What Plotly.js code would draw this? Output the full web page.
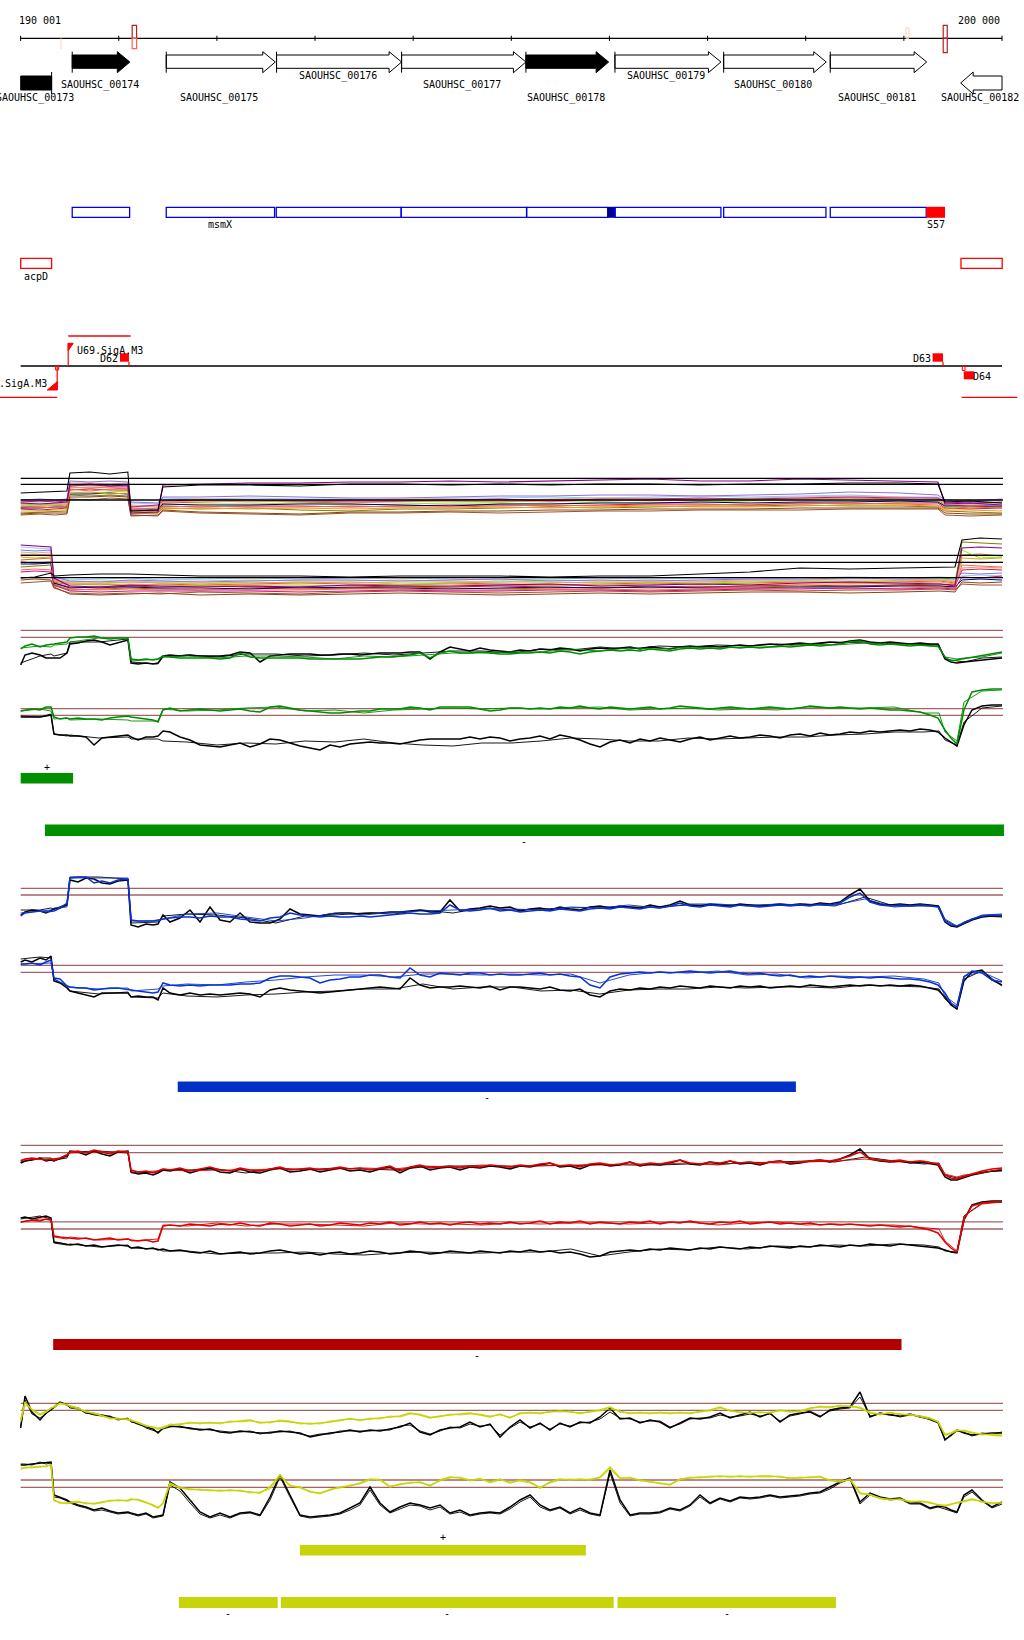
<!DOCTYPE html>
<html><head><meta charset="utf-8">
<script src="https://cdn.plot.ly/plotly-3.0.1.min.js"></script>
<style>html,body{margin:0;padding:0;background:#fff}#chart{width:1024px;height:1640px}</style>
</head><body><div id="chart"></div>
<script>
// ---------------- DATA ----------------
const windowStart = 190001, windowEnd = 200000;
const rulerTicks = [190000,191000,192000,193000,194000,195000,196000,197000,198000,199000,200000];
const rulerLabels = ['190 001','200 000'];
const markStart = [190406,191137,199021,199401];
const markEnd   = [190416,191182,199052,199442];
const markStrand = ['-','both','+','both'];
const markStrength = ['faint','strong','faint','strong'];

const geneNames  = ['SAOUHSC_00173','SAOUHSC_00174','SAOUHSC_00175','SAOUHSC_00176','SAOUHSC_00177','SAOUHSC_00178','SAOUHSC_00179','SAOUHSC_00180','SAOUHSC_00181','SAOUHSC_00182'];
const geneStart  = [189700,190526,191484,192608,193882,195149,196056,197164,198250,199579];
const geneEnd    = [190316,191113,192595,193882,195149,195992,197136,198209,199232,200300];
const geneStrand = ['-','+','+','+','+','+','+','+','+','-'];
const geneFilled = [true,true,false,false,false,true,false,false,false,false];

const boxStart = [190526,191484,192605,193878,195156,195982,196059,197164,198250,199228];
const boxEnd   = [191111,192588,193878,195156,195982,196059,197136,198206,199228,199419];
const boxKind  = ['open','open','open','open','open','dark','open','open','open','hit'];
const boxLabel = ['','msmX','','','','','','','','S57'];
const redBoxStart = [190001,199582];
const redBoxEnd   = [190316,200002];
const redBoxLabel = ['acpD',''];

const promName   = ['U69.SigA.M3','U68.SigA.M3'];
const promPos    = [190485,190373];
const promStrand = ['+','-'];
const termName   = ['D62','D63','D64'];
const termStart  = [191013,199293,199610];
const termEnd    = [191104,199399,199715];
const termStrand = ['+','+','-'];
const utrStart   = [190485,189790,199589];
const utrEnd     = [191121,190373,200156];
const utrStrand  = ['+','-','-'];

// track A (many conditions)
const xAPlus = [190001,190197,190349,190472,190502,190706,190910,191093,191124,191399,191450,191827,192337,192846,193356,193865,194375,194884,195394,195903,196413,196922,197432,197941,198451,198960,199347,199419,199673,200000];
const aPlusBlack  = [32,33,34,34,52,53,51,53,14,15,38,40,40,39,41,41,40,41,40,41,41,40,41,41,42,42,41,23,24,22];
const aPlusPurple = [22,21,22,23,40,41,39,40,12,13,40,41,42,42,43,43,44,43,44,45,46,44,44,46,45,44,43,21,22,20];
const aPlusChocolate = [18,19,20,20,38,37,38,36,17,16,22,23,24,23,22,24,24,23,25,24,25,26,25,26,27,26,25,20,19,18];
const aPlusLawn   = [20,19,20,21,33,32,33,34,14,15,20,21,21,22,20,21,22,22,21,23,22,23,24,25,24,23,24,18,17,18];
const aPlusSky    = [24,23,24,25,40,39,40,38,22,21,27,26,27,26,26,25,27,27,28,27,28,29,28,29,30,28,28,24,23,25];
const aPlusOlive  = [12,13,14,14,30,29,30,29,11,12,17,16,17,15,14,16,16,17,18,17,18,19,19,20,19,19,18,14,13,12];
const aPlusCrimson= [16,15,16,17,35,36,35,35,13,13,19,18,19,19,18,19,20,20,19,20,21,21,20,22,21,22,22,17,16,17];
const aPlusTan    = [22,22,21,22,42,42,41,42,20,19,25,26,24,25,25,26,26,25,26,27,27,26,27,28,29,28,27,22,21,22];
const aPlusNavy   = [17,17,18,18,31,31,32,31,15,15,21,20,20,21,21,20,19,21,21,22,22,23,22,23,23,24,23,19,19,19];
const aPlusSienna = [10,11,10,11,26,25,27,26,10,9,14,12,11,10,12,12,13,12,13,14,14,15,15,15,16,16,16,10,9,10];
const aPlusTomato = [19,18,17,18,36,34,36,37,16,17,18,19,18,18,19,18,18,19,20,19,20,20,21,21,22,21,20,16,18,17];
const aPlusLavender=[25,26,25,26,44,43,44,43,23,22,28,28,29,28,27,27,28,29,29,30,30,29,30,31,33,32,30,25,24,26];
const aPlusGold   = [14,14,15,15,32,33,31,32,12,12,16,17,16,17,16,17,17,18,17,18,19,18,18,19,20,20,19,15,15,14];
const aPlusSalmon = [21,20,21,21,37,38,38,37,19,18,23,24,23,24,23,23,24,24,23,25,24,25,26,26,27,25,26,21,20,21];
const aPlusMagenta= [23,24,23,24,39,40,39,39,18,20,24,25,25,24,24,24,25,26,24,26,26,27,26,27,28,27,27,23,22,23];
const aPlusBrown  = [11,12,12,12,28,28,29,28,9,10,15,13,12,11,13,13,14,14,15,15,16,16,16,17,17,17,17,12,11,11];
const aPlusThresholds = [46.7,40.7,25];

const xAMinus = [190001,190146,190309,190339,190502,190808,191114,191419,191827,192337,192846,193356,193865,194375,194884,195394,195903,196413,196922,197432,197941,198451,198960,199368,199521,199592,199775,200000];
const aMinusBlack  = [22,23,27,24,25,26,26,25,24,24,24,23,24,24,24,23,24,24,26,28,32,31,32,33,33,60,62,61];
const aMinusPurple = [55,54,53,22,14,13,15,14,13,14,13,15,14,14,15,16,14,15,16,15,17,18,17,16,15,52,53,52];
const aMinusChocolate=[40,41,42,18,15,16,14,16,15,16,17,16,15,17,16,15,16,17,16,17,18,17,18,19,17,45,46,44];
const aMinusLawn   = [45,46,44,20,17,16,18,17,16,18,17,18,16,17,19,18,17,18,17,18,19,18,20,21,20,50,42,43];
const aMinusSky    = [53,52,51,24,20,21,22,20,21,22,21,22,22,21,20,21,22,21,22,21,22,23,22,23,22,24,25,24];
const aMinusOlive  = [33,34,35,16,10,11,12,11,10,12,11,12,13,12,11,12,13,12,13,14,13,14,15,14,13,58,57,56];
const aMinusCrimson= [38,37,38,17,13,12,14,13,14,13,12,13,14,13,14,13,12,14,13,14,15,14,15,16,14,30,31,30];
const aMinusTan    = [48,47,48,21,18,19,19,18,19,20,19,19,20,19,18,20,19,20,19,20,20,21,21,20,19,38,37,38];
const aMinusSienna = [17,18,19,12,7,6,7,6,8,7,6,8,9,8,7,8,9,8,9,10,9,10,10,11,10,16,15,15];
const aMinusNavy   = [36,36,37,17,12,13,13,12,12,11,13,12,12,11,12,13,12,13,12,12,13,13,14,14,13,20,21,20];
const aMinusLavender=[50,49,50,23,19,18,20,19,18,19,20,20,19,20,21,19,20,19,20,21,21,22,21,22,21,27,26,27];
const aMinusTomato = [30,31,30,14,11,10,11,10,11,10,10,11,11,10,10,11,11,10,11,12,12,11,12,13,12,35,34,33];
const aMinusGold   = [43,42,43,19,16,15,16,15,14,15,15,14,15,16,15,14,15,16,15,16,16,16,17,18,16,42,41,42];
const aMinusSalmon = [46,45,46,20,17,17,18,17,17,17,18,17,18,18,17,17,18,18,18,19,19,19,19,20,18,32,33,32];
const aMinusMagenta= [28,29,28,15,9,8,9,9,9,9,8,9,10,9,9,10,10,9,10,11,11,12,11,12,11,23,22,24];
const aMinusBrown  = [20,21,20,13,6,5,6,7,5,6,5,6,7,6,5,6,7,6,7,8,8,7,8,9,8,18,17,18];
const aMinusThresholds = [44.7,37.7,22.3];

// fine grid (first replicate of each paired condition track)
const xDense = [190001,190045,190116,190198,190259,190310,190340,190402,190473,190503,190585,190666,190748,190829,190911,190992,191094,191125,191197,191278,191349,191400,191451,
191522,191624,191726,191828,191930,192032,192134,192236,192338,192440,
192542,192643,192745,192847,192949,193051,193153,193255,193357,193458,
193560,193662,193764,193866,193968,194070,194172,194274,194375,194477,
194579,194681,194783,194885,194987,195089,195191,195293,195394,195496,
195598,195700,195802,195904,196006,196108,196210,196311,196413,196515,
196617,196719,196821,196923,197025,197127,197229,197330,197432,197534,
197636,197738,197840,197942,198044,198146,198247,198349,198451,198553,
198655,198757,198859,198961,199063,199165,199266,199348,
199419,199480,199541,199612,199694,199796,199898,200000];
// coarse grid (second replicate)
const xPos = [190001,190197,190309,190340,190472,190502,190798,191093,191129,191399,191450,191695,192000,192296,192602,192897,193203,193498,193804,194099,194405,194700,195006,195302,195607,195903,196199,196505,196800,197106,197401,197707,198002,198298,198603,198899,199205,199358,199419,199541,199613,199796,200000];

const greenPlusA = [26,29,31,28,30,31,31,32,33,37,38,38,39,37,36,37,37,16,15,16,15,16,19,
18,17,17,17,17,16,17,22,18,17, 17,17,17,17,16,16,16,16,16,16, 17,18,18,19,20,22,17,22,24,22, 22,23,22,21,21,22,
22,23,22,24,23,21,23,24,25,24, 25,24,26,25,24,26,27,26,27,26, 28,27,28,27,28,29,28,29,30,29, 30,31,33,34,31,30,31,30,29,30, 29,29,
18,14,15,16,18,19,21,23];
const greenPlusRefA = [10,20,22,20,17,17,17,17,22,31,32,34,35,33,30,32,35,12,11,12,11,12,19,
20,19,20,19,19,19,20,23,22,13, 19,20,21,21,21,20,20,21,21,20, 21,22,22,22,23,23,16,23,28,26, 24,27,25,24,23,25,
24,26,25,27,26,24,26,27,26,27, 28,26,28,27,26,28,29,28,29,28, 29,30,29,30,31,30,31,32,31,32, 33,32,34,35,33,32,33,32,31,32, 31,31,
16,13,12,13,14,15,16,17];
const greenPlusB = [27,29,28,30,31,33,37,37,14,16,18,19,17,19,19,18,16,19,18,20,22,22,23,23,26,24,27,26,28,27,28,28,31,30,32,31,30,28,18,16,17,18,22];
const greenPlusRefB = [12,19,21,19,22,33,33,36,13,11,18,20,18,21,21,19,20,22,20,22,24,24,22,26,25,28,26,29,28,30,29,31,30,33,32,31,30,30,16,14,13,17,18];
const greenMinusA = [49,50,51,50,53,53,43,41,42,41,42,41,41,40,42,43,44,43,42,41,40,38,50,
52,49,50,51,50,49,50,51,49,48, 53,54,52,50,49,48,47,47,48,49, 49,51,51,51,53,52,50,53,53,53, 53,51,49,50,52,52,
51,52,51,53,52,54,52,51,53,52, 51,52,53,51,52,54,53,52,51,52, 53,52,51,52,53,52,51,52,54,53, 52,53,52,51,52,51,50,50,49,48, 45,42,
30,22,16,50,68,70,71,71];
const greenMinusRefA = [43,43,43,43,44,45,26,25,25,24,24,23,15,22,23,24,25,23,20,23,23,24,29,
28,23,20,15,14,13,15,17,13,16, 21,20,17,14,12,10,15,13,16,17, 18,17,17,16,18,20,21,21,21,21, 23,21,23,22,19,21,
22,24,21,25,23,20,16,13,18,20, 17,21,19,22,20,18,21,23,20,22, 24,22,23,25,24,22,25,26,24,27, 25,26,28,27,29,28,29,30,29,31, 30,28,
22,18,14,35,50,54,55,55];
const greenMinusB = [49,51,49,41,42,40,41,40,39,39,51,49,50,52,53,49,50,47,50,51,52,51,52,51,52,53,50,51,52,50,51,50,53,52,52,53,47,47,28,19,58,69,70];
const greenMinusRefB = [44,43,46,26,24,25,22,23,21,21,19,18,15,17,16,19,18,21,17,15,14,17,17,19,22,21,19,19,22,21,22,23,23,25,26,28,28,29,20,15,38,52,54];
const greenPlusThresholds = [44.7,37.7];
const greenMinusThresholds = [51.3,44.7];

const bluePlusA = [19,22,23,24,23,24,24,27,32,57,58,58,52,54,52,55,56,15,14,14,14,15,16,
17,18,18,17,19,18,18,16,15,14, 17,18,22,20,19,18,19,18,18,19, 18,19,20,21,22,21,21,22,30,25, 24,25,27,24,25,23,
24,25,24,26,25,24,26,27,26,28, 27,26,28,27,29,32,29,28,30,29, 28,30,29,28,29,30,29,30,29,31, 30,32,38,42,33,30,29,30,29,30, 29,28,
14,10,9,12,16,19,20,20];
const bluePlusRefA = [20,23,25,24,22,25,26,27,30,55,53,57,56,52,51,54,55,10,8,11,10,11,20,
13,17,25,13,28,15,13,22,13,12, 12,16,26,21,20,19,21,22,22,21, 22,22,23,23,24,25,23,23,35,24, 26,27,29,27,28,24,
26,27,25,28,26,25,28,29,27,29, 28,27,30,28,30,34,30,29,31,30, 29,31,30,29,30,31,30,31,30,32, 31,33,40,46,34,31,30,31,30,31, 30,29,
13,9,8,11,15,18,19,19];
const bluePlusB = [22,24,25,27,28,57,57,57,14,14,16,21,22,18,14,17,22,20,23,24,25,26,26,25,28,27,30,27,31,31,29,31,30,30,36,28,30,28,16,9,12,20,21];
const bluePlusRefB = [25,25,27,26,31,58,58,56,12,13,19,21,20,17,12,19,20,22,21,25,22,27,25,26,27,28,28,28,30,30,30,30,31,29,38,29,29,29,15,8,13,19,18];
const blueMinusA = [51,51,52,50,53,55,37,36,29,28,27,27,25,26,27,27,26,25,24,23,22,23,32,
30,29,30,29,30,30,30,31,31,32, 37,39,39,38,37,32,35,36,38,38, 40,40,38,37,47,40,38,42,41,40, 42,42,40,41,40,40,
41,42,40,41,39,38,30,27,38,41, 42,43,42,43,42,43,44,43,42,43, 44,42,41,42,40,39,40,38,39,38, 39,38,37,38,37,38,37,36,36,35, 33,30,
22,12,8,38,44,42,35,33];
const blueMinusRefA = [53,55,53,57,55,59,34,32,27,24,22,20,18,22,22,22,22,18,19,18,18,15,27,
22,20,22,20,21,20,21,22,21,18, 25,27,25,24,23,22,23,24,25,26, 27,28,27,26,37,30,27,28,28,29, 28,27,29,25,28,28,
27,26,28,25,24,26,20,18,24,26, 25,27,26,28,27,29,28,27,29,28, 27,29,28,29,27,28,29,28,30,29, 28,29,30,29,30,29,30,29,30,29, 27,25,
18,10,6,34,43,45,35,30];
const blueMinusB = [51,52,52,36,30,28,26,27,24,26,29,31,30,33,35,38,40,40,38,41,41,40,41,40,41,32,40,43,42,44,40,41,37,39,38,39,36,32,19,10,39,43,34];
const blueMinusRefB = [56,58,57,36,29,24,21,23,18,17,22,19,18,20,21,23,24,26,26,31,26,28,28,24,25,21,25,26,26,28,27,28,28,27,30,29,28,26,16,6,36,44,29];
const bluePlusThresholds = [46.7,40];
const blueMinusThresholds = [49.7,42.7];

const redPlusA = [24,26,27,26,25,26,26,27,30,33,34,32,35,33,31,34,33,15,13,14,12,14,16,
15,17,14,16,18,15,14,17,15,14, 16,18,15,16,17,15,16,18,16,17, 15,17,19,14,18,20,17,18,19,17, 19,18,20,19,18,20,
19,21,22,19,20,18,21,22,20,21, 23,20,22,21,23,25,22,21,23,22, 24,22,23,21,23,24,22,23,24,25, 24,26,29,33,26,25,24,25,23,24, 22,21,
10,7,6,8,11,14,16,17];
const redPlusRefA = [22,24,25,27,24,25,24,26,29,34,33,30,34,31,29,33,34,13,11,12,10,12,15,
14,16,12,15,17,13,12,16,13,12, 15,17,13,14,16,13,15,17,14,15, 13,16,18,12,17,19,15,17,18,15, 18,17,19,18,16,19,
18,20,22,18,19,16,20,21,19,20, 23,19,21,20,22,25,21,20,23,21, 24,21,22,20,23,24,21,22,24,25, 23,26,30,36,26,24,23,24,22,23, 21,20,
8,5,5,7,10,12,14,15];
const redPlusB = [25,26,26,24,30,32,33,33,13,14,16,14,15,15,16,16,16,17,16,19,18,20,19,19,20,20,21,21,22,20,23,22,23,24,26,23,24,21,11,8,10,12,16];
const redPlusRefB = [23,27,27,25,27,33,34,32,12,13,15,15,16,12,17,15,17,16,15,18,19,19,18,20,19,21,20,20,21,21,22,23,24,23,28,24,21,22,10,7,9,13,14];
const redMinusA = [38,39,40,39,41,40,24,23,22,22,21,22,20,21,22,20,21,20,19,20,18,19,34,
35,34,36,35,34,36,35,37,35,34, 37,36,34,35,36,34,35,37,36,35, 37,36,38,35,36,38,36,37,35,37, 38,36,37,36,38,36,
37,39,36,38,37,39,36,38,37,36, 38,37,39,36,38,37,39,37,36,38, 37,39,36,37,38,36,37,36,37,35, 36,35,36,35,34,35,34,33,34,32, 30,27,
18,12,8,40,54,57,58,58];
const redMinusRefA = [42,43,41,43,44,42,18,17,16,15,16,14,15,13,14,15,14,12,13,11,12,10,11,
9,10,8,7,9,6,7,8,6,7, 9,10,8,6,7,5,7,8,6,7, 9,8,6,7,9,8,6,7,9,8, 7,9,8,7,9,8,
10,8,9,7,8,6,3,4,8,9, 10,9,11,10,12,11,10,12,11,13, 12,11,13,12,14,13,12,14,13,15, 14,13,15,14,16,15,14,16,15,14, 13,12,
10,8,7,40,55,58,59,59];
const redMinusB = [38,41,40,23,21,23,20,21,19,21,35,34,37,34,36,36,35,34,37,36,36,35,37,36,37,37,36,37,38,35,37,38,35,36,35,35,32,31,19,9,44,56,58];
const redMinusRefB = [41,44,41,17,15,16,13,15,12,11,9,9,6,7,7,8,6,5,7,8,7,7,8,8,11,4,8,11,10,13,11,14,13,15,14,16,15,13,9,8,44,57,58];
const redPlusThresholds = [39.7,32.3];
const redMinusThresholds = [38.2,31];

const yellowPlusA = [25,43,35,30,33,37,38,42,40,39,37,33,32,29,27,26,26,25,22,19,18,16,17,
20,21,22,22,22,22,23,24,25,22, 23,24,23,22,21,22,23,25,26,25, 26,27,28,29,32,30,27,29,30,31, 32,30,28,31,27,32,
32,32,33,34,33,32,33,35,38,33, 32,32,32,32,32,32,32,33,35,38, 34,33,32,33,32,35,33,34,37,38, 38,39,39,37,32,31,32,31,30,29, 27,23,
10,12,15,14,12,11,10,9];
const yellowPlusB = [23,40,36,31,34,36,39,41,41,38,36,34,31,30,26,27,25,24,23,20,17,17,18,
21,20,23,21,23,21,24,23,24,23, 22,25,24,21,22,21,24,24,27,24, 27,26,29,28,31,31,28,28,31,30, 31,31,29,30,28,31,
33,31,34,33,34,31,34,34,36,34, 31,33,31,33,31,33,31,34,34,37, 35,32,33,32,33,34,34,33,36,39, 37,40,38,38,33,30,33,30,31,28, 26,24,
11,11,14,15,13,10,11,10];
const yellowPlusRefA = [17,49,33,25,32,35,38,43,40,38,37,32,31,30,28,26,26,24,21,18,16,12,17,
19,18,17,15,16,13,12,14,13,12, 12,14,13,12,8,10,12,13,15,13, 15,14,16,18,22,13,10,15,17,18, 23,18,21,8,18,25,
17,22,15,22,18,23,22,28,37,26, 27,22,25,23,17,22,27,26,28,32, 27,30,33,28,32,23,30,32,33,28, 35,37,38,53,28,32,30,29,31,28, 26,23,
5,10,15,12,10,11,12,12];
const yellowPlusRefB = [19,45,31,27,31,36,37,42,41,37,36,33,30,29,29,25,27,23,22,17,15,13,16,
18,19,16,16,15,14,13,13,14,11, 13,13,14,11,9,11,11,14,14,14, 14,15,15,19,20,14,11,14,18,17, 21,19,20,10,17,23,
18,21,16,21,19,22,23,26,33,27, 26,23,24,24,18,21,26,27,27,30, 28,29,31,29,31,24,29,31,34,29, 34,36,37,48,29,31,31,28,30,29, 25,22,
6,9,14,13,9,12,11,13];
const yellowMinusA = [57,57,58,58,59,60,25,22,22,22,23,22,21,23,24,25,24,26,25,22,20,17,22,
42,37,36,35,35,34,35,34,33,32, 38,50,39,38,33,32,35,38,39,42, 46,45,38,41,42,43,39,45,48,47, 45,46,43,46,42,45,
43,37,43,46,45,46,45,48,58,47, 47,45,43,42,40,46,47,48,48,49, 48,49,48,49,49,48,47,47,48,48, 45,43,46,32,30,27,25,26,23,24, 22,21,
19,21,22,24,26,23,22,22];
const yellowMinusB = [55,58,57,59,58,61,24,23,21,23,24,21,22,22,25,24,25,25,26,23,19,18,21,
40,38,35,36,34,35,34,35,32,33, 36,48,40,37,34,31,36,37,40,41, 45,46,39,40,43,42,40,44,47,48, 44,47,42,45,43,44,
42,38,42,45,46,45,46,47,56,46, 48,44,44,41,41,45,48,47,49,48, 49,48,49,48,48,49,46,48,47,49, 44,44,45,31,31,26,26,25,24,23, 23,20,
20,20,23,23,25,24,21,23];
const yellowMinusRefA = [60,60,61,62,62,63,30,28,25,23,20,18,15,17,14,12,13,12,10,12,8,9,10,
43,37,25,13,8,12,8,12,13,10, 28,50,30,10,8,9,10,12,17,22, 38,22,13,18,22,20,17,20,12,15, 10,12,13,12,18,25,
30,20,15,18,12,17,12,10,55,25, 10,12,12,13,17,15,20,30,22,27, 24,28,27,28,30,28,29,30,32,33, 38,43,47,23,32,28,26,27,22,22, 17,19,
18,15,13,30,35,25,18,23];
const yellowMinusRefB = [61,61,60,63,61,62,28,27,24,22,19,17,14,15,13,11,12,11,9,11,7,8,9,
40,34,22,11,7,10,7,11,12,9, 25,48,28,9,7,8,9,11,15,20, 35,20,12,16,20,19,15,18,11,13, 9,11,12,11,16,23,
28,18,14,17,11,15,11,9,52,22, 9,11,11,12,16,14,19,28,21,26, 23,27,26,27,29,27,28,29,31,32, 36,42,46,21,30,27,25,26,21,21, 16,18,
16,14,12,28,33,24,17,21];
const yellowPlusThresholds = [41.7,34.7];
const yellowMinusThresholds = [45,37.7];

// segment bars
const greenBarStart = [190001,190248];
const greenBarEnd   = [190535,200020];
const greenBarStrand = ['+','-'];
const blueBarStart = [191601];
const blueBarEnd   = [197900];
const blueBarStrand = ['-'];
const redBarStart = [190332];
const redBarEnd   = [198976];
const redBarStrand = ['-'];
const yellowBarStart = [192846,191613,192652,196082];
const yellowBarEnd   = [195760,192620,196043,198308];
const yellowBarStrand = ['+','-','-','-'];

// ---------------- DRAWING ----------------
const PAGE_W = 1024, PAGE_H = 1640;
const X_RANGE = [189790.1, 200224.2];
const PX = (X_RANGE[1]-X_RANGE[0])/PAGE_W;   // bp per pixel
const FONT = {family:'DejaVu Sans Mono, monospace', size:10, color:'#000000'};
const traces = [], shapes = [], annotations = [];

function label(text, x, y, xanchor){
  annotations.push({text:text, x:x, y:y, xref:'x', yref:'y', showarrow:false,
    xanchor:xanchor||'center', yanchor:'middle', font:FONT, borderpad:0, borderwidth:0});
}
function rect(x0,x1,y0,y1,line,fill,width,yref){
  shapes.push({type:'rect', xref:'x', yref:yref||'y', x0:x0, x1:x1, y0:y0, y1:y1,
    line:{color:line||'rgba(0,0,0,0)', width:line?(width||1):0}, fillcolor:fill||'rgba(0,0,0,0)', layer:'above'});
}
function seg(x0,x1,y0,y1,color,width){
  shapes.push({type:'line', xref:'x', yref:'y', x0:x0, x1:x1, y0:y0, y1:y1, line:{color:color, width:width||1}});
}
function addLine(x, y, axis, color, width){
  traces.push({type:'scatter', mode:'lines', x:x, y:y, xaxis:'x', yaxis:axis,
    line:{color:color, width:width}, hoverinfo:'skip', showlegend:false});
}
function poly(x, y, fill, line){
  traces.push({type:'scatter', mode:'lines', x:x, y:y, xaxis:'x', yaxis:'y', fill:'toself',
    fillcolor:fill, line:{color:line||fill, width:1}, hoverinfo:'skip', showlegend:false});
}

// ruler
const RULER_Y = 38.3;
seg(windowStart, windowEnd, RULER_Y, RULER_Y, '#000', 1.2);
rulerTicks.forEach(t => seg(t, t, RULER_Y-2.6, RULER_Y+2.6, '#000', 1));
label(rulerLabels[0], X_RANGE[0] + 19.3*PX, 20, 'left');
label(rulerLabels[1], X_RANGE[0] + 1000*PX, 20, 'right');
markStart.forEach((s,i) => {
  const e = markEnd[i];
  if (markStrength[i] === 'strong') {
    rect(s, e, 25.3, RULER_Y, '#b22222', null, 1.2);
    rect(s, e, RULER_Y, i === 1 ? 48.7 : 52.7, i === 1 ? '#ff6347' : '#b22222', null, 1.2);
  } else if (markStrand[i] === '-') {
    rect(s, e, RULER_Y, 49, null, '#f8d0c0');
  } else {
    rect(s, e, 28, RULER_Y, '#f8d0c0', null, 1);
  }
});

// genes
const FWD = {headTop:51.7, bodyTop:55, mid:62, bodyBot:68.3, headBot:72.7};
const REV = {headTop:72, bodyTop:76, mid:83, bodyBot:90, headBot:94};
const HEAD = 12.5*PX;
const LABEL_ROW_Y = [76, 85, 97.7];
const LABEL_ROW = [2,1,2,0,1,2,0,1,2,2];
geneNames.forEach((name,i) => {
  const s = geneStart[i], e = geneEnd[i], fwd = geneStrand[i] === '+';
  const ds = Math.max(s, windowStart), de = Math.min(e, windowEnd);
  const r = fwd ? FWD : REV;
  let xs, ys;
  const boxY = [r.bodyTop,r.bodyTop,r.bodyBot,r.bodyBot,r.bodyTop];
  if (fwd && e <= windowEnd) {
    const h = Math.max(ds, de-HEAD);
    xs = [ds,h,h,de,h,h,ds,ds]; ys = [r.bodyTop,r.bodyTop,r.headTop,r.mid,r.headBot,r.bodyBot,r.bodyBot,r.bodyTop];
  } else if (!fwd && s >= windowStart) {
    const h = Math.min(de, ds+HEAD);
    xs = [de,h,h,ds,h,h,de,de]; ys = [r.bodyTop,r.bodyTop,r.headTop,r.mid,r.headBot,r.bodyBot,r.bodyBot,r.bodyTop];
  } else {
    xs = [ds,de,de,ds,ds]; ys = boxY;
  }
  poly(xs, ys, geneFilled[i] ? '#000000' : '#ffffff', '#000000');
  const tail = fwd ? s : e;
  if (tail >= windowStart && tail <= windowEnd) seg(tail, tail, r.headTop, r.headBot, '#000', 1);
  label(name, (ds+de)/2 - 1.5*PX, LABEL_ROW_Y[LABEL_ROW[i]], 'center');
});

// transcription-unit boxes
boxStart.forEach((s,i) => {
  const k = boxKind[i];
  if (k === 'open') rect(s, boxEnd[i], 207.3, 217.3, '#0000f0', null, 1.3);
  else rect(s, boxEnd[i], 206.8, 217.8, null, k === 'dark' ? '#000090' : '#ff0000');
  if (boxLabel[i]) label(boxLabel[i], (s+boxEnd[i])/2, 224.5, 'center');
});
redBoxStart.forEach((s,i) => {
  rect(s, redBoxEnd[i], 258.3, 268.3, '#ff0000', null, 1.3);
  if (redBoxLabel[i]) label(redBoxLabel[i], (s+redBoxEnd[i])/2, 276, 'center');
});

// promoters / terminators
const PL = 366, RED = '#ff0000';
seg(windowStart, windowEnd, PL, PL, '#000', 1.3);
utrStart.forEach((s,i) => seg(s, utrEnd[i], utrStrand[i]==='+'?336:397.3, utrStrand[i]==='+'?336:397.3, RED, 1.3));
promPos.forEach((p,i) => {
  if (promStrand[i] === '+') {
    seg(p, p, 343.3, PL, RED, 1.2);
    poly([p, p+5*PX, p, p], [343.3, 343.3, 350.7, 343.3], RED);
    label(promName[i], p + 8.4*PX, 350, 'left');
  } else {
    seg(p, p, PL, 390, RED, 1.2);
    poly([p, p-10*PX, p, p], [390, 390, 381.7, 390], RED);
    rect(p-1.6*PX, p+1.4*PX, PL, 370, RED, null, 1);
    label(promName[i], p - 9.8*PX, 383.3, 'right');
  }
});
termStart.forEach((s,i) => {
  const e = termEnd[i];
  if (termStrand[i] === '+') {
    rect(s, e, 353.3, 361.7, null, RED);
    seg(e, e, 361.7, PL, RED, 1.2);
    label(termName[i], s - 1.8*PX, 358.2, 'right');
  } else {
    rect(s, e, 371.3, 379.3, null, RED);
    rect(s-1.4*PX, s+1.3*PX, PL, 370.5, RED, null, 1);
    label(termName[i], e - 1.3*PX, 376, 'left');
  }
});

// panels
const layout = {
  width: PAGE_W, height: PAGE_H, margin:{l:0,r:0,t:0,b:0,pad:0},
  paper_bgcolor:'#ffffff', plot_bgcolor:'rgba(0,0,0,0)', showlegend:false,
  xaxis:{range:X_RANGE, visible:false, fixedrange:true, anchor:'y'},
  yaxis:{range:[PAGE_H,0], domain:[0,1], visible:false, fixedrange:true, anchor:'x'}
};
const bands = {y2:[455,525], y3:[530,600], y4:[620,675], y5:[685,760], y6:[860,935], y7:[945,1015],
               y8:[1135,1185], y9:[1195,1260], y10:[1385,1445], y11:[1455,1525]};
Object.keys(bands).forEach(k => {
  const [top,bot] = bands[k];
  layout['yaxis'+k.slice(1)] = {domain:[1-bot/PAGE_H, 1-top/PAGE_H], range:[0, bot-top], visible:false, fixedrange:true, anchor:'x'};
});

// track A
const aColors = ['#d2691e','#7cfc00','#87cefa','#808000','#dc143c','#d2b48c','#000080','#a0522d','#ff6347','#9370db','#daa520','#e9967a','#c71585','#8b4513'];
const aPlusSet = [aPlusChocolate,aPlusLawn,aPlusSky,aPlusOlive,aPlusCrimson,aPlusTan,aPlusNavy,aPlusSienna,aPlusTomato,aPlusLavender,aPlusGold,aPlusSalmon,aPlusMagenta,aPlusBrown];
const aMinusSet = [aMinusChocolate,aMinusLawn,aMinusSky,aMinusOlive,aMinusCrimson,aMinusTan,aMinusNavy,aMinusSienna,aMinusTomato,aMinusLavender,aMinusGold,aMinusSalmon,aMinusMagenta,aMinusBrown];
aPlusSet.forEach((v,i) => addLine(xAPlus, v, 'y2', aColors[i], 1));
addLine(xAPlus, aPlusPurple, 'y2', '#8b008b', 1.2);
addLine(xAPlus, aPlusBlack, 'y2', '#000000', 1.1);
aPlusThresholds.forEach(v => addLine([windowStart, windowEnd+10], [v,v], 'y2', '#000000', 1.3));
aMinusSet.forEach((v,i) => addLine(xAMinus, v, 'y3', aColors[i], 1));
addLine(xAMinus, aMinusPurple, 'y3', '#8b008b', 1.2);
addLine(xAMinus, aMinusBlack, 'y3', '#000000', 1.1);
aMinusThresholds.forEach(v => addLine([windowStart, windowEnd+10], [v,v], 'y3', '#000000', 1.3));

function pairPanel(xa, a, xb, b, refA, refB, color, axis, thr){
  thr.forEach(v => addLine([windowStart, windowEnd+10], [v,v], axis, '#a06464', 1.3));
  addLine(xb, refB, axis, '#000000', 0.9);
  addLine(xa, refA, axis, '#000000', 1.5);
  addLine(xb, b, axis, color, 0.9);
  addLine(xa, a, axis, color, 1.5);
}
const GREEN='#008c00', BLUE='#0a32d2', REDL='#e00000', YEL='#c8d400';
pairPanel(xDense, greenPlusA, xPos, greenPlusB, greenPlusRefA, greenPlusRefB, GREEN, 'y4', greenPlusThresholds);
pairPanel(xDense, greenMinusA, xPos, greenMinusB, greenMinusRefA, greenMinusRefB, GREEN, 'y5', greenMinusThresholds);
pairPanel(xDense, bluePlusA, xPos, bluePlusB, bluePlusRefA, bluePlusRefB, BLUE, 'y6', bluePlusThresholds);
pairPanel(xDense, blueMinusA, xPos, blueMinusB, blueMinusRefA, blueMinusRefB, BLUE, 'y7', blueMinusThresholds);
pairPanel(xDense, redPlusA, xPos, redPlusB, redPlusRefA, redPlusRefB, REDL, 'y8', redPlusThresholds);
pairPanel(xDense, redMinusA, xPos, redMinusB, redMinusRefA, redMinusRefB, REDL, 'y9', redMinusThresholds);
pairPanel(xDense, yellowPlusA, xDense, yellowPlusB, yellowPlusRefA, yellowPlusRefB, YEL, 'y10', yellowPlusThresholds);
pairPanel(xDense, yellowMinusA, xDense, yellowMinusB, yellowMinusRefA, yellowMinusRefB, YEL, 'y11', yellowMinusThresholds);

// segment bars
function bars(starts, ends, strands, color, rows){
  starts.forEach((s,i) => {
    const r = rows[strands[i]];
    rect(s, ends[i], r[0], r[1], null, color);
    label(strands[i], (s+ends[i])/2, r[2], 'center');
  });
}
bars(greenBarStart, greenBarEnd, greenBarStrand, '#009000', {'+':[773,783.5,767], '-':[824.5,836,841.5]});
bars(blueBarStart, blueBarEnd, blueBarStrand, '#0030c8', {'-':[1081.5,1092,1097.5]});
bars(redBarStart, redBarEnd, redBarStrand, '#b40000', {'-':[1339,1350,1355.5]});
bars(yellowBarStart, yellowBarEnd, yellowBarStrand, '#c8d40a', {'+':[1545,1555.5,1537.5], '-':[1597,1608,1613.5]});

layout.shapes = shapes;
layout.annotations = annotations;
Plotly.newPlot('chart', traces, layout, {staticPlot:true, displayModeBar:false});
</script></body></html>
